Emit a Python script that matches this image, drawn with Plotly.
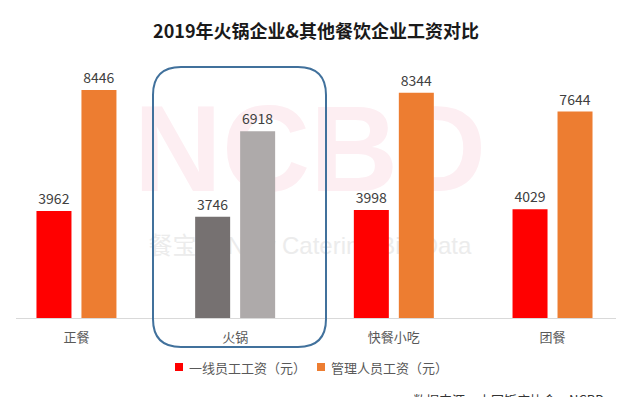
import plotly.graph_objects as go

# ---- data ----
categories = ["正餐", "火锅", "快餐小吃", "团餐"]
frontline = [3962, 3746, 3998, 4029]
management = [8446, 6918, 8344, 7644]
frontline_colors = ["#FF0000", "#767171", "#FF0000", "#FF0000"]
management_colors = ["#ED7D31", "#AEAAAA", "#ED7D31", "#ED7D31"]
legend_names = ["一线员工工资（元）", "管理人员工资（元）"]
title_text = "2019年火锅企业&其他餐饮企业工资对比"
source_text = "数据来源：中国饭店协会，NCBD"
watermark_big = "NCBD"
watermark_small = "餐宝典 New Catering Big Data"

# page body has an 8px default margin; size the figure to fill the rest of the window
OFF = 8
W, H = 636 - OFF, 397 - OFF
ML, MR, MT, MB = 16 - OFF, 20, 48 - OFF, 79
PW = W - ML - MR
PH = H - MT - MB
FONT = "Noto Sans CJK SC, Microsoft YaHei, sans-serif"


def xp(px):  # window pixel -> paper x
    return (px - OFF - ML) / PW


def yp(py):  # window pixel -> paper y
    return (H - MB - (py - OFF)) / PH


fig = go.Figure()
# watermark on the base (hidden) axes so it sits beneath the bars
fig.add_trace(go.Scatter(
    x=[xp(310)], y=[yp(160)], mode="text", text=[f"<b>{watermark_big}</b>"],
    textfont=dict(family="Liberation Sans, Arial, DejaVu Sans", size=122, color="#FDEEF2"),
    xaxis="x", yaxis="y", hoverinfo="skip", cliponaxis=False,
))
fig.add_trace(go.Scatter(
    x=[xp(310)], y=[yp(248)], mode="text", text=[watermark_small],
    textfont=dict(family="Liberation Sans, Noto Sans CJK SC", size=24, color="#ECECEC"),
    xaxis="x", yaxis="y", hoverinfo="skip", cliponaxis=False,
))

fig.add_trace(go.Bar(
    x=categories, y=frontline, name=legend_names[0],
    marker=dict(color=frontline_colors, line=dict(width=0)),
    text=frontline, textposition="outside", cliponaxis=False,
    textfont=dict(size=14, color="#404040", family=FONT),
    xaxis="x2", yaxis="y2",
))
fig.add_trace(go.Bar(
    x=categories, y=management, name=legend_names[1],
    marker=dict(color=management_colors, line=dict(width=0)),
    text=management, textposition="outside", cliponaxis=False,
    textfont=dict(size=14, color="#404040", family=FONT),
    xaxis="x2", yaxis="y2",
))

shapes = []
# rounded highlight box around 火锅
L, R, T, B, r = 153, 326, 67, 347, 28
path = (
    f"M {xp(L + r)},{yp(T)} L {xp(R - r)},{yp(T)} "
    f"Q {xp(R)},{yp(T)} {xp(R)},{yp(T + r)} "
    f"L {xp(R)},{yp(B - r)} Q {xp(R)},{yp(B)} {xp(R - r)},{yp(B)} "
    f"L {xp(L + r)},{yp(B)} Q {xp(L)},{yp(B)} {xp(L)},{yp(B - r)} "
    f"L {xp(L)},{yp(T + r)} Q {xp(L)},{yp(T)} {xp(L + r)},{yp(T)} Z"
)
shapes.append(dict(type="path", xref="paper", yref="paper", path=path,
                   line=dict(color="#41719C", width=2), fillcolor="rgba(0,0,0,0)",
                   layer="above"))

# custom legend squares
legend_sq = [(175, frontline_colors[0]), (317, management_colors[0])]
for x0, c in legend_sq:
    shapes.append(dict(type="rect", xref="paper", yref="paper",
                       x0=xp(x0), x1=xp(x0 + 8), y0=yp(371), y1=yp(363),
                       line=dict(width=0), fillcolor=c))

annotations = []
for (x0, _), name in zip(legend_sq, legend_names):
    annotations.append(dict(
        xref="paper", yref="paper", x=xp(x0 + 12), y=yp(367),
        xanchor="left", yanchor="middle", text=name, showarrow=False,
        font=dict(family=FONT, size=13, color="#595959"),
    ))
annotations.append(dict(
    xref="paper", yref="paper", x=xp(411), y=yp(388),
    xanchor="left", yanchor="top", text=source_text, showarrow=False,
    font=dict(family=FONT, size=13, color="#333333"),
))

fig.update_layout(
    width=W, height=H,
    margin=dict(l=ML, r=MR, t=MT, b=MB, pad=0),
    paper_bgcolor="white", plot_bgcolor="white",
    barmode="group", bargap=0.433, bargroupgap=0.222,
    showlegend=False, hovermode=False,
    title=dict(text=f"<b>{title_text}</b>", x=0.5, xref="paper", xanchor="center",
               y=1 - (32 - OFF) / H, yanchor="middle",
               font=dict(family=FONT, size=18, color="#1a1a1a")),
    xaxis=dict(range=[0, 1], visible=False, showgrid=False, zeroline=False, fixedrange=True),
    yaxis=dict(range=[0, 1], visible=False, showgrid=False, zeroline=False, fixedrange=True),
    xaxis2=dict(type="category", overlaying="x", range=[-0.381, 3.400], showgrid=False,
                showline=True, linecolor="#D9D9D9", linewidth=1,
                ticks="outside", ticklen=7, tickcolor="rgba(0,0,0,0)",
                tickfont=dict(family=FONT, size=13, color="#595959"),
                fixedrange=True, anchor="y2"),
    yaxis2=dict(overlaying="y", range=[0, 10000], visible=False, showgrid=False,
                zeroline=False, fixedrange=True, anchor="x2"),
    shapes=shapes, annotations=annotations,
    font=dict(family=FONT),
)

fig.write_html("out.html", config={"displayModeBar": False})
